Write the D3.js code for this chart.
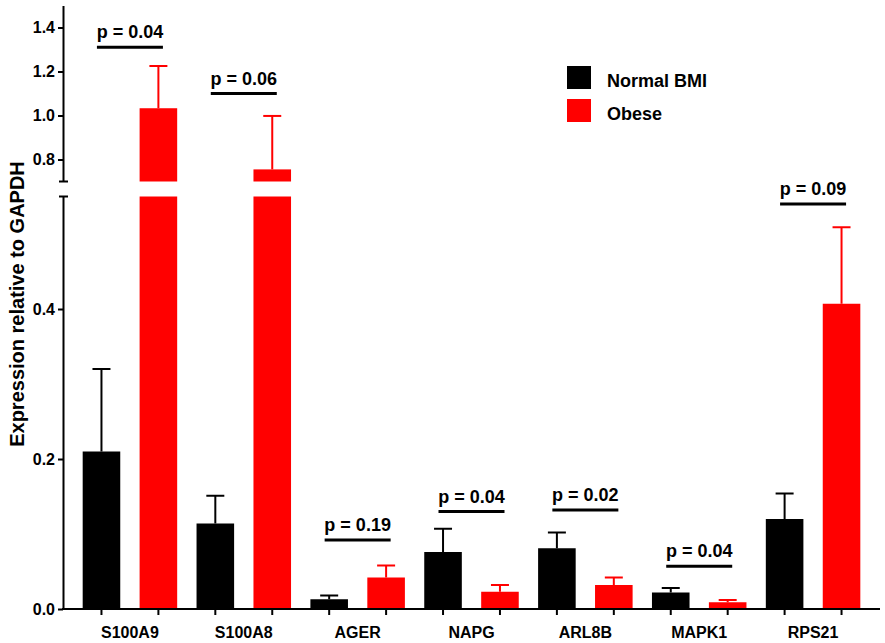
<!DOCTYPE html>
<html>
<head>
<meta charset="utf-8">
<script src="https://cdn.jsdelivr.net/npm/d3@7"></script>
<style>
  html, body { margin: 0; padding: 0; background: #fff; }
  text { font-family: Arial, "Liberation Sans", sans-serif; font-weight: bold; fill: #000; }
</style>
</head>
<body>
<svg id="chart" width="885" height="643"></svg>
<script>
// ---- data ----
const genes = ["S100A9", "S100A8", "AGER", "NAPG", "ARL8B", "MAPK1", "RPS21"];
const seriesNames = ["Normal BMI", "Obese"];
const seriesColors = ["#000000", "#ff0000"];
const normalMean = [0.210, 0.114, 0.013, 0.076, 0.081, 0.022, 0.120];
const normalSem  = [0.110, 0.037, 0.005, 0.031, 0.021, 0.006, 0.034];
const obeseMean  = [1.033, 0.755, 0.042, 0.023, 0.032, 0.009, 0.407];
const obeseSem   = [0.192, 0.243, 0.016, 0.009, 0.010, 0.003, 0.102];
const pLabels    = ["p = 0.04", "p = 0.06", "p = 0.19", "p = 0.04", "p = 0.02", "p = 0.04", "p = 0.09"];
const pHeights   = [1.31, 1.10, 0.092, 0.130, 0.132, 0.057, 0.54];
const lowerTicks = [0.0, 0.2, 0.4];
const upperTicks = [0.8, 1.0, 1.2, 1.4];
const lowerDomain = [0, 0.55];
const upperDomain = [0.7, 1.5];
const yTitle = "Expression relative to GAPDH";

// ---- layout ----
const svg = d3.select("#chart");
const axisX = 63, xRight = 880;
const baseY = 609;
const yLow = d3.scaleLinear().domain(lowerDomain).range([baseY, 196.5]);
const yUp  = d3.scaleLinear().domain(upperDomain).range([181.5, 5.5]);
const yAny = v => v <= lowerDomain[1] ? yLow(v) : yUp(v);

const xGroup = d3.scaleBand().domain(genes).range([73, 870]).padding(0);
const xSub = d3.scaleBand().domain(seriesNames).range([0, xGroup.bandwidth()])
  .paddingInner(0.34).paddingOuter(0.17);

const bars = [];
genes.forEach((g, i) => {
  bars.push({gene: g, s: 0, mean: normalMean[i], sem: normalSem[i]});
  bars.push({gene: g, s: 1, mean: obeseMean[i], sem: obeseSem[i]});
});
const bx = d => xGroup(d.gene) + xSub(seriesNames[d.s]);
const bc = d => bx(d) + xSub.bandwidth() / 2;

// bars: lower segment
svg.append("g").selectAll("rect").data(bars).join("rect")
  .attr("x", bx)
  .attr("width", xSub.bandwidth())
  .attr("y", d => yLow(Math.min(d.mean, lowerDomain[1])))
  .attr("height", d => baseY - yLow(Math.min(d.mean, lowerDomain[1])))
  .attr("fill", d => seriesColors[d.s]);
// bars: upper segment
svg.append("g").selectAll("rect").data(bars.filter(d => d.mean > upperDomain[0])).join("rect")
  .attr("x", bx)
  .attr("width", xSub.bandwidth())
  .attr("y", d => yUp(d.mean))
  .attr("height", d => yUp(upperDomain[0]) - yUp(d.mean))
  .attr("fill", d => seriesColors[d.s]);

// error bars
const eg = svg.append("g").selectAll("g").data(bars).join("g")
  .attr("stroke", d => seriesColors[d.s]).attr("stroke-width", 2);
eg.append("line")
  .attr("x1", bc).attr("x2", bc)
  .attr("y1", d => yAny(d.mean)).attr("y2", d => yAny(d.mean + d.sem));
eg.append("line")
  .attr("x1", d => bc(d) - 9).attr("x2", d => bc(d) + 9)
  .attr("y1", d => yAny(d.mean + d.sem)).attr("y2", d => yAny(d.mean + d.sem));

// y axes
const fmt = d3.format(".1f");
const gLow = svg.append("g").attr("transform", `translate(${axisX},0)`)
  .call(d3.axisLeft(yLow).tickValues(lowerTicks).tickFormat(fmt).tickSize(5).tickSizeOuter(0).tickPadding(3));
const gUp = svg.append("g").attr("transform", `translate(${axisX},0)`)
  .call(d3.axisLeft(yUp).tickValues(upperTicks).tickFormat(fmt).tickSize(5).tickSizeOuter(0).tickPadding(3));
[gLow, gUp].forEach(g => {
  g.selectAll("path, line").attr("stroke", "#000").attr("stroke-width", 2);
  g.selectAll("text").attr("font-size", 16).attr("font-family", "Arial, 'Liberation Sans', sans-serif")
    .attr("font-weight", "bold").attr("fill", "#000");
});
// break caps
[yLow.range()[1], yUp.range()[0]].forEach(yy => {
  svg.append("line").attr("x1", axisX - 4).attr("x2", axisX + 5)
    .attr("y1", yy).attr("y2", yy).attr("stroke", "#000").attr("stroke-width", 2);
});

// x axis
svg.append("line").attr("x1", axisX - 1).attr("x2", xRight)
  .attr("y1", baseY).attr("y2", baseY).attr("stroke", "#000").attr("stroke-width", 2);
svg.append("g").selectAll("line").data(bars).join("line")
  .attr("x1", bc).attr("x2", bc).attr("y1", baseY).attr("y2", baseY + 6)
  .attr("stroke", "#000").attr("stroke-width", 2);
svg.append("g").selectAll("text").data(genes).join("text")
  .attr("x", g => xGroup(g) + xGroup.bandwidth() / 2)
  .attr("y", 638)
  .attr("text-anchor", "middle").attr("font-size", 16)
  .text(g => g);

// p-value brackets
const pg = svg.append("g").selectAll("g").data(genes).join("g");
pg.append("line")
  .attr("x1", g => xGroup(g) + xGroup.bandwidth() / 2 - 33)
  .attr("x2", g => xGroup(g) + xGroup.bandwidth() / 2 + 33)
  .attr("y1", (g, i) => yAny(pHeights[i])).attr("y2", (g, i) => yAny(pHeights[i]))
  .attr("stroke", "#000").attr("stroke-width", 3);
pg.append("text")
  .attr("x", g => xGroup(g) + xGroup.bandwidth() / 2)
  .attr("y", (g, i) => yAny(pHeights[i]) - 9)
  .attr("text-anchor", "middle").attr("font-size", 18)
  .text((g, i) => pLabels[i]);

// y title
svg.append("text")
  .attr("transform", "translate(24,304) rotate(-90)")
  .attr("text-anchor", "middle").attr("font-size", 20)
  .text(yTitle);

// legend
const lg = svg.append("g").selectAll("g").data(seriesNames).join("g")
  .attr("transform", (d, i) => `translate(567,${66 + i * 33})`);
lg.append("rect").attr("width", 24).attr("height", 23).attr("fill", (d, i) => seriesColors[i]);
lg.append("text").attr("x", 40).attr("y", 21).attr("font-size", 18).text(d => d);
</script>
</body>
</html>
